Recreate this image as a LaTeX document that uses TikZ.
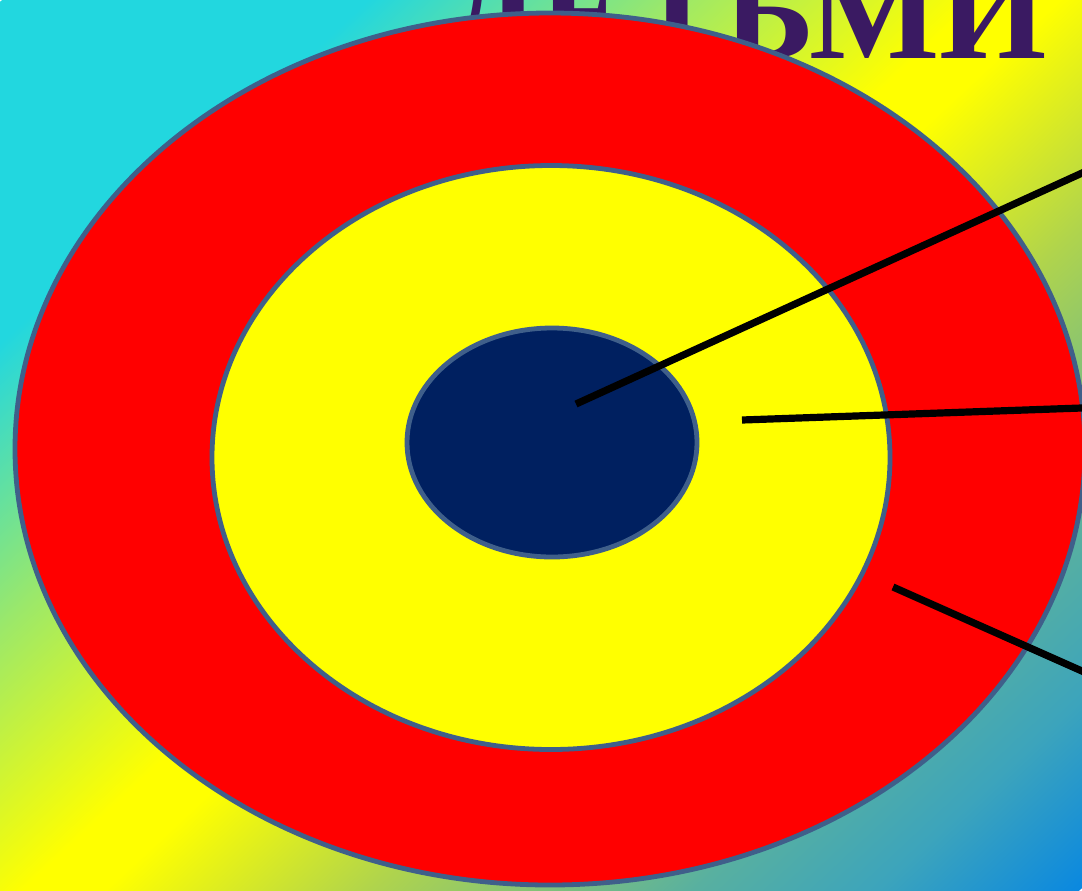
\documentclass[tikz,border=0pt]{standalone}
\usepackage{fontspec}
\setmainfont{Liberation Serif}
\definecolor{bgcyan}{HTML}{22D7DF}
\definecolor{bggreen}{HTML}{9BE86A}
\definecolor{bgyellow}{HTML}{FFFF00}
\definecolor{bgolive}{HTML}{B0D44C}
\definecolor{bgteal}{HTML}{58B0A0}
\definecolor{bgteal2}{HTML}{3CA4BC}
\definecolor{bgblue}{HTML}{0A88E0}
\definecolor{ringred}{HTML}{FF0000}
\definecolor{ringyellow}{HTML}{FFFF00}
\definecolor{ringnavy}{HTML}{002060}
\definecolor{ringedge}{HTML}{3F5F8A}
\definecolor{titlepurple}{HTML}{3A1A62}
\pgfdeclarehorizontalshading{bgshade}{100bp}{color(0bp)=(bgcyan); color(34bp)=(bgcyan); color(41.5bp)=(bggreen); color(49bp)=(bgyellow); color(51bp)=(bgyellow); color(57.5bp)=(bgolive); color(65.5bp)=(bgteal); color(70bp)=(bgteal2); color(75bp)=(bgblue); color(100bp)=(bgblue)}
\tikzset{
  ring/.style={draw=ringedge, line width=2.4pt},
  pointer/.style={draw=black, line width=3.6pt},
  title/.style={text=titlepurple, inner sep=0pt, font=\fontsize{69}{80}\selectfont\bfseries}
}
\begin{document}
\begin{tikzpicture}[x=0.5pt, y=-0.5pt]
\useasboundingbox (0,0) rectangle (1082,890);
\clip (0,0) rectangle (1082,890);
% background
\shade[shading=bgshade, transform canvas={rotate around={-47:(541,445)}}] (-152,-305) rectangle (1234,1195);
% title (partly hidden)
\node[title, anchor=base east] (titletext) at (1047,58) {ДЕТЬМИ};
% rings
\draw[ring, fill=ringred] (550,449) ellipse [x radius=267.5pt, y radius=218pt];
\draw[ring, fill=ringyellow] (551,457.5) ellipse [x radius=169.5pt, y radius=146pt];
\draw[ring, fill=ringnavy] (552,442.5) ellipse [x radius=72.5pt, y radius=57.25pt];
% pointers
\coordinate (a1) at (576,404);
\coordinate (b1) at (1090,169.4);
\coordinate (a2) at (742,420);
\coordinate (b2) at (1090,407.7);
\coordinate (a3) at (893,587);
\coordinate (b3) at (1090,674.6);
\draw[pointer] (a1) -- (b1);
\draw[pointer] (a2) -- (b2);
\draw[pointer] (a3) -- (b3);
\end{tikzpicture}
\end{document}
